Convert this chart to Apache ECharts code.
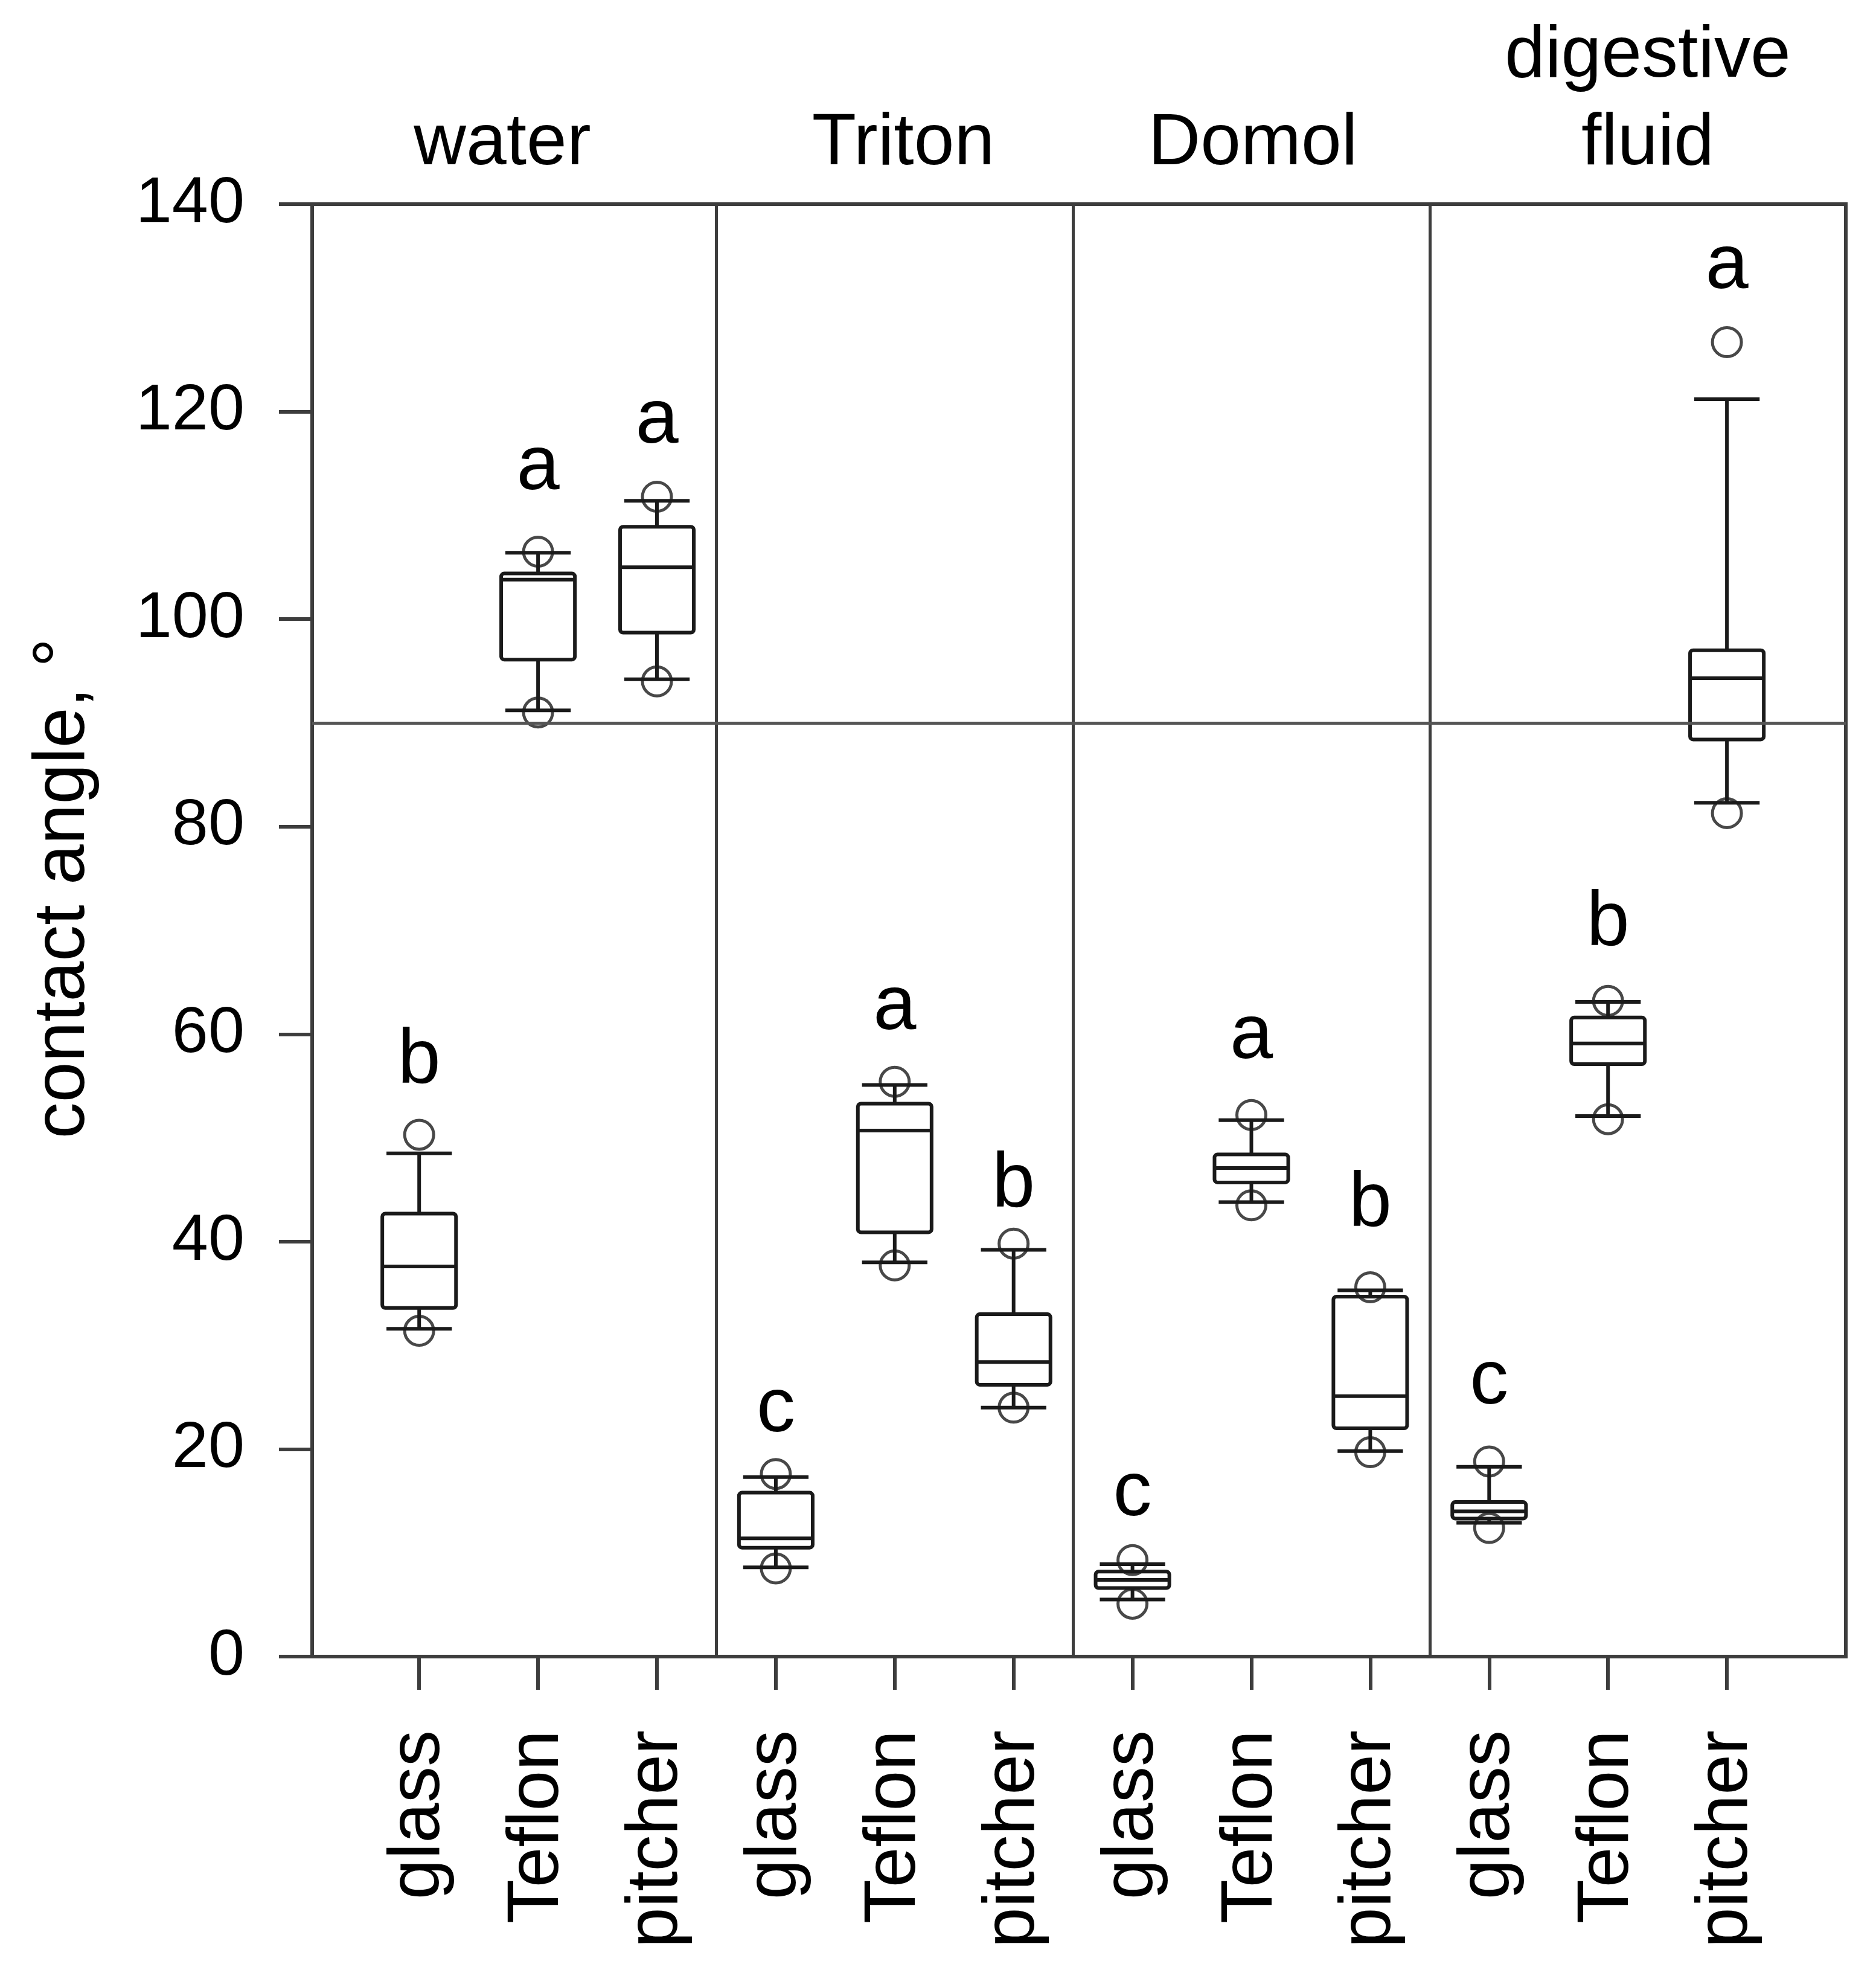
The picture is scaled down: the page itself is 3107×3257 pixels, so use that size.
<!DOCTYPE html>
<html>
<head>
<meta charset="utf-8">
<script src="https://cdn.jsdelivr.net/npm/echarts@6.0.0/dist/echarts.min.js"></script>
<style>
html, body { margin: 0; padding: 0; background: #fff; }
#chart { width: 3107px; height: 3257px; }
</style>
</head>
<body>
<div id="chart"></div>
<script>
var FONT = '"Liberation Sans", Arial, Helvetica, sans-serif';
var LINE = '#1a1a1a';
var AXIS = '#3d3d3d';

// positions of the 12 boxes on the x axis
var positions = [1, 2, 3, 4, 5, 6, 7, 8, 9, 10, 11, 12];
var surfaces = ['glass', 'Teflon', 'pitcher', 'glass', 'Teflon', 'pitcher',
                'glass', 'Teflon', 'pitcher', 'glass', 'Teflon', 'pitcher'];
var liquids = ['water', 'Triton', 'Domol', 'digestive fluid'];
var yTicks = [0, 20, 40, 60, 80, 100, 120, 140];

// box statistics (contact angle, degrees)
var whiskerLow  = [31.6, 91.2, 94.2,  8.6, 38.0, 24.0, 5.5, 43.8, 19.8, 12.9, 52.1,  82.3];
var quart1      = [33.6, 96.1, 98.7, 10.5, 40.9, 26.2, 6.6, 45.7, 22.0, 13.3, 57.1,  88.4];
var median      = [37.6, 103.8, 105.0, 11.4, 50.7, 28.4, 7.4, 47.1, 25.1, 14.0, 59.1, 94.3];
var quart3      = [42.7, 104.4, 108.9, 15.8, 53.3, 33.0, 8.2, 48.4, 34.7, 14.9, 61.6, 97.0];
var whiskerHigh = [48.5, 106.4, 111.4, 17.3, 55.1, 39.2, 8.9, 51.7, 35.3, 18.3, 63.1, 121.2];

// points beyond the whiskers
var outlierLow  = [31.4, 91.0, 94.0,  8.5, 37.7, 24.0, 5.1, 43.5, 19.7, 12.4, 51.8,  81.3];
var outlierHigh = [50.3, 106.5, 111.8, 17.6, 55.4, 39.8, 9.3, 52.2, 35.6, 18.8, 63.2, 126.7];

// significance letters and their height
var sigLetters = ['b', 'a', 'a', 'c', 'a', 'b', 'c', 'a', 'b', 'c', 'b', 'a'];
var sigHeight  = [57.7, 114.9, 119.4, 24.1, 62.9, 45.8, 16.0, 60.1, 43.9, 26.8, 71.0, 134.3];

var BOX_WIDTH = 0.62;
var CAP_WIDTH = 0.55;

var boxData = positions.map(function (p, i) {
    return [p, whiskerLow[i], quart1[i], median[i], quart3[i], whiskerHigh[i]];
});
var outlierData = [];
positions.forEach(function (p, i) {
    outlierData.push([p, outlierLow[i]]);
    outlierData.push([p, outlierHigh[i]]);
});
var letterData = positions.map(function (p, i) { return [p, sigHeight[i]]; });

function renderBox(params, api) {
    var x = api.value(0);
    var lo = api.coord([x, api.value(1)]);
    var q1 = api.coord([x, api.value(2)]);
    var md = api.coord([x, api.value(3)]);
    var q3 = api.coord([x, api.value(4)]);
    var hi = api.coord([x, api.value(5)]);
    var bw = api.size([BOX_WIDTH, 0])[0] / 2;
    var cw = api.size([CAP_WIDTH, 0])[0] / 2;
    var cx = md[0];
    var st = {stroke: LINE, lineWidth: 6, fill: 'none'};
    return {
        type: 'group',
        children: [
            {type: 'line', shape: {x1: cx, y1: q1[1], x2: cx, y2: lo[1]}, style: st},
            {type: 'line', shape: {x1: cx, y1: q3[1], x2: cx, y2: hi[1]}, style: st},
            {type: 'line', shape: {x1: cx - cw, y1: lo[1], x2: cx + cw, y2: lo[1]}, style: st},
            {type: 'line', shape: {x1: cx - cw, y1: hi[1], x2: cx + cw, y2: hi[1]}, style: st},
            {type: 'rect', shape: {x: cx - bw, y: q3[1], width: bw * 2, height: q1[1] - q3[1], r: 5}, style: st},
            {type: 'line', shape: {x1: cx - bw, y1: md[1], x2: cx + bw, y2: md[1]}, style: st}
        ]
    };
}

function renderLetter(params, api) {
    var p = api.coord([api.value(0), api.value(1)]);
    return {
        type: 'text',
        x: p[0],
        y: p[1] + 6,
        style: {
            text: sigLetters[params.dataIndex],
            fontSize: 128,
            fontFamily: FONT,
            fill: '#000',
            align: 'center', textAlign: 'center',
            verticalAlign: 'middle', textVerticalAlign: 'middle'
        }
    };
}

function headText(txt, x, y) {
    return {
        type: 'text', x: x, y: y,
        style: {
            text: txt, fontSize: 120, fontFamily: FONT, fill: '#000',
            align: 'center', textAlign: 'center',
            verticalAlign: 'middle', textVerticalAlign: 'middle'
        }
    };
}

var chart = echarts.init(document.getElementById('chart'));
chart.setOption({
    animation: false,
    backgroundColor: '#fff',
    grid: {
        left: 517, right: 50, top: 338, bottom: 514,
        show: true, borderColor: AXIS, borderWidth: 6, backgroundColor: 'transparent'
    },
    xAxis: {
        type: 'value',
        min: 0.1,
        max: 13,
        splitLine: {show: false},
        axisLine: {show: true, lineStyle: {color: AXIS, width: 6}},
        axisTick: {
            show: true, length: 55, inside: false,
            customValues: positions,
            lineStyle: {color: AXIS, width: 6}
        },
        axisLabel: {
            show: true,
            customValues: positions,
            rotate: 90,
            margin: 122,
            fontSize: 120,
            fontFamily: FONT,
            color: '#000',
            formatter: function (v) { return surfaces[Math.round(v) - 1] || ''; }
        }
    },
    yAxis: {
        type: 'value',
        min: yTicks[0],
        max: yTicks[yTicks.length - 1],
        interval: 20,
        splitLine: {show: false},
        axisLine: {show: true, lineStyle: {color: AXIS, width: 6}},
        axisTick: {show: true, length: 55, inside: false, lineStyle: {color: AXIS, width: 6}},
        axisLabel: {margin: 112, fontSize: 108, fontFamily: FONT, color: '#000'}
    },
    graphic: [
        headText(liquids[0], 832, 239),
        headText(liquids[1], 1496, 239),
        headText(liquids[2], 2075, 239),
        headText(liquids[3].split(' ')[0], 2729, 94),
        headText(liquids[3].split(' ')[1], 2729, 239),
        {
            type: 'text', x: 106, y: 1471, rotation: Math.PI / 2,
            style: {
                text: 'contact angle, \u00b0', fontSize: 120, fontFamily: FONT, fill: '#000',
                align: 'center', textAlign: 'center',
                verticalAlign: 'middle', textVerticalAlign: 'middle'
            }
        }
    ],
    series: [
        {
            type: 'scatter',
            data: outlierData,
            symbol: 'circle',
            symbolSize: 48,
            z: 3,
            silent: true,
            itemStyle: {color: 'rgba(0,0,0,0)', borderColor: LINE, borderWidth: 5},
            markLine: {
                silent: true,
                symbol: ['none', 'none'],
                label: {show: false},
                lineStyle: {color: AXIS, width: 5, type: 'solid'},
                data: [
                    {xAxis: 3.5},
                    {xAxis: 6.5},
                    {xAxis: 9.5},
                    {yAxis: 90, lineStyle: {color: '#555', width: 5}}
                ]
            }
        },
        {
            type: 'custom',
            renderItem: renderBox,
            data: boxData,
            encode: {x: 0, y: [1, 2, 3, 4, 5]},
            z: 4,
            silent: true
        },
        {
            type: 'custom',
            renderItem: renderLetter,
            data: letterData,
            encode: {x: 0, y: 1},
            z: 5,
            silent: true
        }
    ]
});
</script>
</body>
</html>
